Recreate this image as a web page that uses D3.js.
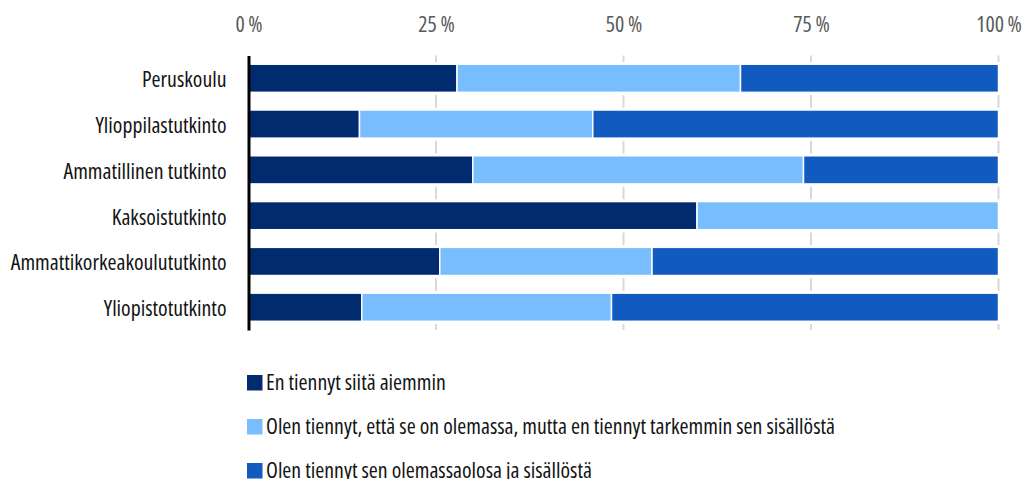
<!DOCTYPE html>
<html>
<head>
<meta charset="utf-8">
<script src="https://cdn.jsdelivr.net/npm/d3@7"></script>
<style>
  body { margin: 0; background: #fff; }
  text { font-family: "Open Sans", sans-serif; font-stretch: condensed; }
</style>
</head>
<body>
<script>
const width = 1024;
const height = 479;
const fontSize = 21.8;

// données
const categories = ["Peruskoulu", "Ylioppilastutkinto", "Ammatillinen tutkinto", "Kaksoistutkinto", "Ammattikorkeakoulututkinto", "Yliopistotutkinto"];
const seriesNames = [
    "En tiennyt siitä aiemmin",
    "Olen tiennyt, että se on olemassa, mutta en tiennyt tarkemmin sen sisällöstä",
    "Olen tiennyt sen olemassaolosa ja sisällöstä"
];
const enTiennyt = [27.8, 14.8, 29.9, 59.8, 25.5, 15.1];
const olemassa = [37.8, 31.1, 44.1, 40.2, 28.3, 33.3];
const sisallosta = [34.4, 54.1, 26.0, 0, 46.2, 51.6];
const tickValues = [0, 25, 50, 75, 100];
const colors = ["#002b6e", "#78bdfd", "#115abf"];

const svg = d3.select("body")
    .append("svg")
    .attr("width", width)
    .attr("height", height);

const x = d3.scaleLinear().domain([0, 100]).range([248.5, 998.5]);
const y = d3.scaleBand()
    .domain(categories)
    .range([55.5, 330])
    .paddingInner(0.385)
    .paddingOuter(0.19);

// lignes de grille en pointillés (visibles seulement entre les barres)
const step = y.step();
const dashLen = 12.7;
const firstDash = y(categories[0]) + y.bandwidth() + 2.7 - step;
svg.append("g")
    .selectAll("line")
    .data(tickValues.slice(1))
    .enter()
    .append("line")
    .attr("x1", d => x(d))
    .attr("x2", d => x(d))
    .attr("y1", y.range()[0])
    .attr("y2", y.range()[1])
    .attr("stroke", "#d9d9d9")
    .attr("stroke-width", 2)
    .attr("stroke-dasharray", `${dashLen},${step - dashLen}`)
    .attr("stroke-dashoffset", y.range()[0] - firstDash);

// axe du haut
const xAxis = d3.axisTop(x)
    .tickValues(tickValues)
    .tickFormat(d => d + "\u2009%")
    .tickSize(0)
    .tickPadding(0);
const gx = svg.append("g")
    .attr("transform", "translate(0, 32)")
    .call(xAxis);
gx.select(".domain").remove();
gx.selectAll("text")
    .attr("fill", "#595959")
    .attr("font-size", fontSize + "px")
    .attr("dy", 0);

// barres empilées
const rows = categories.map((c, i) => ({ cat: c, v: [enTiennyt[i], olemassa[i], sisallosta[i]] }));
const stack = d3.stack().keys([0, 1, 2]).value((d, k) => d.v[k]);
const layers = stack(rows);

svg.append("g")
    .selectAll("g")
    .data(layers)
    .enter()
    .append("g")
    .attr("fill", (d, i) => colors[i])
    .selectAll("rect")
    .data(d => d.filter(p => p[1] - p[0] > 0))
    .enter()
    .append("rect")
    .attr("x", d => x(d[0]))
    .attr("y", d => y(d.data.cat))
    .attr("width", d => x(d[1]) - x(d[0]))
    .attr("height", y.bandwidth())
    .attr("stroke", "#fff")
    .attr("stroke-width", 1.5);

// axe vertical (catégories)
const yAxis = d3.axisLeft(y).tickSize(0).tickPadding(22);
const gy = svg.append("g")
    .attr("transform", `translate(${x(0)}, 0)`)
    .call(yAxis);
gy.select(".domain")
    .attr("stroke", "#000")
    .attr("stroke-width", 3);
gy.selectAll("text")
    .attr("fill", "#141414")
    .attr("font-size", fontSize + "px")
    .attr("dy", "0.41em");

// légende
const legend = svg.append("g")
    .selectAll("g")
    .data(seriesNames)
    .enter()
    .append("g")
    .attr("transform", (d, i) => `translate(247, ${375 + i * 44})`);
legend.append("rect")
    .attr("width", 15.5)
    .attr("height", 15.5)
    .attr("fill", (d, i) => colors[i]);
legend.append("text")
    .attr("x", 19)
    .attr("y", 15)
    .attr("font-size", fontSize + "px")
    .attr("fill", "#141414")
    .text(d => d);
</script>
</body>
</html>
